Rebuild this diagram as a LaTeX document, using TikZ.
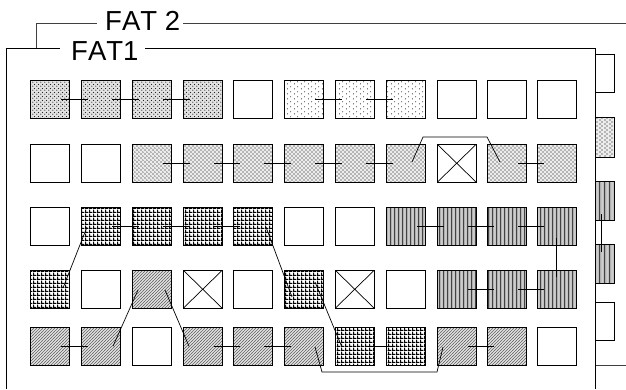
\documentclass[tikz,border=0pt]{standalone}
\usepackage{fontspec}
\setmainfont[Kerning=Off]{Liberation Sans}
\usetikzlibrary{patterns,calc}

\pgfdeclarepatternformonly{densedots}{\pgfpointorigin}{\pgfqpoint{3.6pt}{3.6pt}}{\pgfqpoint{3.6pt}{3.6pt}}{%
  \pgfpathcircle{\pgfqpoint{0.9pt}{0.9pt}}{0.65pt}%
  \pgfpathcircle{\pgfqpoint{2.7pt}{2.7pt}}{0.65pt}%
  \pgfusepath{fill}}
\pgfdeclarepatternformonly{sparsedots}{\pgfpointorigin}{\pgfqpoint{6.5pt}{5pt}}{\pgfqpoint{6.5pt}{5pt}}{%
  \pgfpathcircle{\pgfqpoint{1.6pt}{1.25pt}}{0.55pt}%
  \pgfpathcircle{\pgfqpoint{4.85pt}{3.75pt}}{0.55pt}%
  \pgfusepath{fill}}
\pgfdeclarepatternformonly{meddots}{\pgfpointorigin}{\pgfqpoint{4.4pt}{4.4pt}}{\pgfqpoint{4.4pt}{4.4pt}}{%
  \pgfpathcircle{\pgfqpoint{1.1pt}{1.1pt}}{0.65pt}%
  \pgfpathcircle{\pgfqpoint{3.3pt}{3.3pt}}{0.65pt}%
  \pgfusepath{fill}}
\pgfdeclarepatternformonly{gridpat}{\pgfpointorigin}{\pgfqpoint{3.7pt}{3.7pt}}{\pgfqpoint{3.7pt}{3.7pt}}{%
  \pgfpathrectangle{\pgfpointorigin}{\pgfqpoint{3.7pt}{1.15pt}}%
  \pgfpathrectangle{\pgfpointorigin}{\pgfqpoint{1.15pt}{3.7pt}}%
  \pgfusepath{fill}}
\pgfdeclarepatternformonly{vstripe}{\pgfpointorigin}{\pgfqpoint{4.4pt}{1pt}}{\pgfqpoint{4.4pt}{1pt}}{%
  \pgfpathrectangle{\pgfpointorigin}{\pgfqpoint{1.3pt}{1pt}}%
  \pgfusepath{fill}}
\pgfdeclarepatternformonly{wstripe}{\pgfpointorigin}{\pgfqpoint{4.4pt}{1pt}}{\pgfqpoint{4.4pt}{1pt}}{%
  \pgfpathrectangle{\pgfqpoint{3pt}{0pt}}{\pgfqpoint{0.6pt}{1pt}}%
  \pgfusepath{fill}}
\pgfdeclarepatternformonly{hatchpat}{\pgfqpoint{-1pt}{-1pt}}{\pgfqpoint{4pt}{4pt}}{\pgfqpoint{3pt}{3pt}}{%
  \pgfsetlinewidth{0.6pt}%
  \pgfpathmoveto{\pgfqpoint{-0.5pt}{-0.5pt}}%
  \pgfpathlineto{\pgfqpoint{3.5pt}{3.5pt}}%
  \pgfusepath{stroke}}

\newcommand\bx[4]{\node[box,#4,anchor=north west] (#1) at (#2,#3) {};}
\newcommand\hconn[3]{\draw[conn] ($(r#1c#2.center)+(11,0)$) -- ($(r#1c#3.center)+(-12.5,0)$);}

\begin{document}
\begin{tikzpicture}[x=1pt,y=-1pt,
  box/.style={draw=black, line width=0.8pt, minimum width=39.5pt, minimum height=38.5pt, inner sep=0pt, outer sep=0pt},
  pwhite/.style={fill=white},
  pdense/.style={preaction={fill=gray!22}, pattern=densedots, pattern color=black!85},
  psparse/.style={pattern=sparsedots, pattern color=black},
  pmed/.style={preaction={fill=gray!15}, pattern=meddots, pattern color=black},
  pgrid/.style={pattern=gridpat, pattern color=black},
  pvstripe/.style={preaction={fill=gray!50}, preaction={pattern=vstripe, pattern color=black}, pattern=wstripe, pattern color=white},
  phatch/.style={preaction={fill=gray!20}, pattern=hatchpat, pattern color=black!60},
  pcross/.style={fill=white, path picture={\draw[line width=0.7pt] (path picture bounding box.north west) -- (path picture bounding box.south east) (path picture bounding box.north east) -- (path picture bounding box.south west);}},
  conn/.style={draw=black, line width=0.7pt},
  frameone/.style={draw=black, line width=0.9pt},
  frametwo/.style={draw=black!75, line width=0.7pt},
  fattext/.style={font=\fontsize{27.5}{30}\selectfont, inner sep=0pt, anchor=base west}]
\useasboundingbox (0,0) rectangle (626,389);
\fill[white] (0,0) rectangle (626,389);

% FAT 2 frame (behind)
\node[fattext] (fat2) at (105,30) {FAT 2};
\draw[frametwo] (36,48) -- (36,23) -- (97,23);
\draw[frametwo] (183,23) -- (626,23);
\draw[frametwo] (595,365) -- (626,365);
% FAT 2 boxes visible at the right
\node[box, pwhite, minimum width=19pt, minimum height=38pt, anchor=north west] (s1) at (595,54) {};
\node[box, pmed, minimum width=19pt, minimum height=40pt, anchor=north west] (s2) at (595,117) {};
\node[box, pvstripe, minimum width=19pt, minimum height=39pt, anchor=north west] (s3) at (595,181) {};
\node[box, pvstripe, minimum width=19pt, minimum height=39pt, anchor=north west] (s4) at (595,244) {};
\node[box, pwhite, minimum width=19pt, minimum height=38pt, anchor=north west] (s5) at (595,302) {};
\draw[conn] ($(s3.center)+(-3.5,13.5)$) -- ($(s4.center)+(-3.5,-11.5)$);

% FAT1 frame
\node[fattext] (fat1) at (71,60) {FAT1};
\draw[frameone] (60,48) -- (6,48) -- (6,389);
\draw[frameone] (145,48) -- (595,48) -- (595,389);

% Row 1
\bx{r1c1}{30}{80}{pdense}
\bx{r1c2}{81}{80}{pdense}
\bx{r1c3}{132}{80}{pdense}
\bx{r1c4}{183}{80}{pdense}
\bx{r1c5}{233}{80}{pwhite}
\bx{r1c6}{284}{80}{psparse}
\bx{r1c7}{335}{80}{psparse}
\bx{r1c8}{386}{80}{psparse}
\bx{r1c9}{437}{80}{pwhite}
\bx{r1c10}{487}{80}{pwhite}
\bx{r1c11}{537}{80}{pwhite}
% Row 2
\bx{r2c1}{30}{144}{pwhite}
\bx{r2c2}{81}{144}{pwhite}
\bx{r2c3}{132}{144}{pmed}
\bx{r2c4}{183}{144}{pmed}
\bx{r2c5}{233}{144}{pmed}
\bx{r2c6}{284}{144}{pmed}
\bx{r2c7}{335}{144}{pmed}
\bx{r2c8}{386}{144}{pmed}
\bx{r2c9}{437}{144}{pcross}
\bx{r2c10}{487}{144}{pmed}
\bx{r2c11}{537}{144}{pmed}
% Row 3
\bx{r3c1}{30}{207}{pwhite}
\bx{r3c2}{81}{207}{pgrid}
\bx{r3c3}{132}{207}{pgrid}
\bx{r3c4}{183}{207}{pgrid}
\bx{r3c5}{233}{207}{pgrid}
\bx{r3c6}{284}{207}{pwhite}
\bx{r3c7}{335}{207}{pwhite}
\bx{r3c8}{386}{207}{pvstripe}
\bx{r3c9}{437}{207}{pvstripe}
\bx{r3c10}{487}{207}{pvstripe}
\bx{r3c11}{537}{207}{pvstripe}
% Row 4
\bx{r4c1}{30}{270}{pgrid}
\bx{r4c2}{81}{270}{pwhite}
\bx{r4c3}{132}{270}{phatch}
\bx{r4c4}{183}{270}{pcross}
\bx{r4c5}{233}{270}{pwhite}
\bx{r4c6}{284}{270}{pgrid}
\bx{r4c7}{335}{270}{pcross}
\bx{r4c8}{386}{270}{pwhite}
\bx{r4c9}{437}{270}{pvstripe}
\bx{r4c10}{487}{270}{pvstripe}
\bx{r4c11}{537}{270}{pvstripe}
% Row 5
\bx{r5c1}{30}{327}{phatch}
\bx{r5c2}{81}{327}{phatch}
\bx{r5c3}{132}{327}{pwhite}
\bx{r5c4}{183}{327}{phatch}
\bx{r5c5}{233}{327}{phatch}
\bx{r5c6}{284}{327}{phatch}
\bx{r5c7}{335}{327}{pgrid}
\bx{r5c8}{386}{327}{pgrid}
\bx{r5c9}{437}{327}{phatch}
\bx{r5c10}{487}{327}{phatch}
\bx{r5c11}{537}{327}{pwhite}

% horizontal connectors
\hconn{1}{1}{2}\hconn{1}{2}{3}\hconn{1}{3}{4}\hconn{1}{6}{7}\hconn{1}{7}{8}
\hconn{2}{3}{4}\hconn{2}{4}{5}\hconn{2}{5}{6}\hconn{2}{6}{7}\hconn{2}{7}{8}\hconn{2}{10}{11}
\hconn{3}{2}{3}\hconn{3}{3}{4}\hconn{3}{4}{5}\hconn{3}{8}{9}\hconn{3}{9}{10}\hconn{3}{10}{11}
\hconn{4}{9}{10}\hconn{4}{10}{11}
\hconn{5}{1}{2}\hconn{5}{4}{5}\hconn{5}{5}{6}\hconn{5}{7}{8}\hconn{5}{9}{10}

% vertical and diagonal connectors
\draw[conn] ($(r3c11.center)+(0,11.75)$) -- ($(r4c11.center)+(0,-12.25)$);
\draw[conn] ($(r3c2.center)+(-13.75,0.75)$) -- ($(r4c1.center)+(13.25,-1.25)$);
\draw[conn] ($(r3c5.center)+(13.25,0.75)$) -- ($(r4c6.center)+(-11.75,7.75)$);
\draw[conn] ($(r4c6.center)+(11.25,-7.25)$) -- ($(r5c7.center)+(-13,0.5)$);
\draw[conn] ($(r4c3.center)+(-13.75,0.75)$) -- ($(r5c2.center)+(12.25,0)$);
\draw[conn] ($(r4c3.center)+(13.25,0.75)$) -- ($(r5c4.center)+(-13.75,0)$);

% bracket connectors
\coordinate (ka) at (423,137);
\coordinate (kb) at (487,137);
\draw[conn] ($(r2c8.center)+(6.25,-1.25)$) -- (ka) -- (kb) -- ($(r2c10.center)+(-6.75,-1.25)$);
\coordinate (kc) at (322,372);
\coordinate (kd) at (437,372);
\draw[conn] ($(r5c6.center)+(11.25,0.75)$) -- (kc) -- (kd) -- ($(r5c9.center)+(-13.75,0.75)$);
\end{tikzpicture}
\end{document}
